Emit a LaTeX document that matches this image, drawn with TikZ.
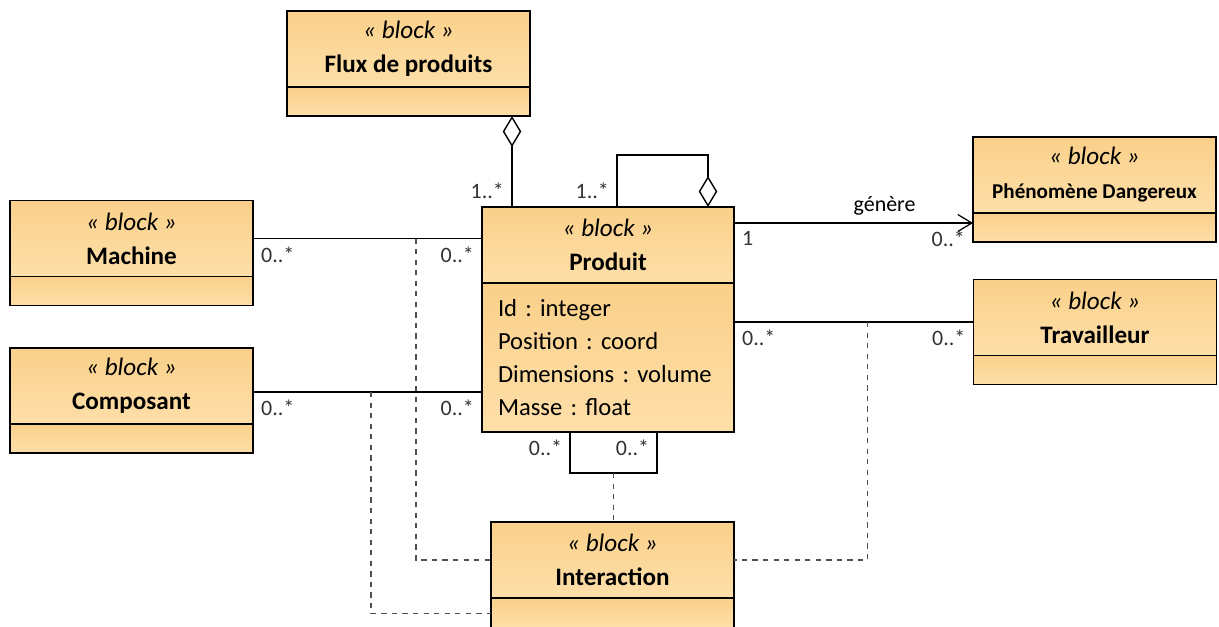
\documentclass[tikz,border=0pt]{standalone}
\usepackage{fontspec}
\setmainfont{Carlito}
\usetikzlibrary{positioning,calc,arrows.meta}
\frenchspacing

\definecolor{blocktop}{HTML}{FAD08A}
\definecolor{blockbot}{HTML}{FDDFA9}
\definecolor{multgray}{HTML}{333333}
\definecolor{dashgray}{HTML}{505050}

\tikzset{
  blockhead/.style={draw, line width=1.1pt, top color=blocktop, bottom color=blockbot,
    minimum width=4.86cm, minimum height=1.52cm, align=center, inner sep=0pt, outer sep=0pt,
    font=\fontsize{14.3}{19.3}\selectfont},
  blockcomp/.style={draw, line width=1.1pt, top color=blocktop, bottom color=blockbot,
    minimum width=4.86cm, minimum height=0.58cm, inner sep=0pt, outer sep=0pt},
  assoc/.style={line width=0.7pt},
  link/.style={dashed, dashgray, line width=0.7pt},
  mult/.style={font=\fontsize{12.5}{14}\selectfont, text=multgray, inner sep=0.15cm},
  aggreg/.style={{Diamond[open,length=0.62cm,width=0.37cm,line width=0.8pt]}-},
}

\begin{document}
\begin{tikzpicture}
  \useasboundingbox (0,0) rectangle (24.38,-12.52);

  % blocks
  \node[blockhead] (flux) at (8.17,-0.98) {\textit{« block »}\\\textbf{Flux de produits}};
  \node[blockcomp, below=0pt of flux] (flux-c) {};

  \node[blockhead, minimum width=5.04cm] (produit) at (12.16,-4.9) {\textit{« block »}\\\textbf{Produit}};
  \node[blockcomp, minimum width=5.04cm, minimum height=2.98cm, text width=4.4cm, align=left,
    font=\fontsize{14}{18.7}\selectfont, below=0pt of produit] (produit-c)
    {Id : integer\\Position : coord\\Dimensions : volume\\Masse : float};

  \node[blockhead] (machine) at (2.63,-4.77) {\textit{« block »}\\\textbf{Machine}};
  \node[blockcomp, below=0pt of machine] (machine-c) {};

  \node[blockhead] (composant) at (2.63,-7.72) {\textit{« block »}\\\textbf{Composant}};
  \node[blockcomp, below=0pt of composant] (composant-c) {};

  \node[blockhead] (phen) at (21.89,-3.5)
    {\textit{« block »}\\{\fontsize{12}{14}\selectfont\bfseries Phénomène Dangereux}};
  \node[blockcomp, below=0pt of phen] (phen-c) {};

  \node[blockhead] (trav) at (21.9,-6.35) {\textit{« block »}\\\textbf{Travailleur}};
  \node[blockcomp, below=0pt of trav] (trav-c) {};

  \node[blockhead] (inter) at (12.25,-11.2) {\textit{« block »}\\\textbf{Interaction}};
  \node[blockcomp, minimum height=0.62cm, below=0pt of inter] (inter-c) {};

  % ends
  \coordinate (genend) at ([yshift=0.09cm]phen-c.west);
  \coordinate (travend) at ([yshift=-0.09cm]trav.west);
  \coordinate (compend) at ([yshift=-0.12cm]composant.east);

  % aggregations
  \draw[assoc, aggreg] ([xshift=-0.36cm]flux-c.south east) -- ([xshift=-0.36cm]flux-c.south east |- produit.north)
    node[mult, pos=1, anchor=south east] {1..*};
  \draw[assoc, aggreg] ([xshift=2cm]produit.north) -- ++(0,1.04) -| ([xshift=0.18cm]produit.north)
    node[mult, pos=1, anchor=south east] {1..*};

  % associations
  \draw[assoc] (machine.east) -- (machine.east -| produit.west)
    coordinate[pos=0.712] (mj)
    node[mult, pos=0, anchor=north west] {0..*}
    node[mult, pos=1, anchor=north east] {0..*};
  \draw[assoc] (compend) -- (compend -| produit-c.west)
    coordinate[pos=0.515] (cj)
    node[mult, pos=0, anchor=north west] {0..*}
    node[mult, pos=1, anchor=north east] {0..*};
  \draw[assoc, -{Straight Barb[length=0.28cm,width=0.34cm]}] (produit.east |- genend) -- (genend)
    node[mult, pos=0.63, anchor=south, text=black] {génère}
    node[mult, pos=0, anchor=north west] {1}
    node[mult, pos=1, anchor=north east] {0..*};
  \draw[assoc] (produit-c.east |- travend) -- (travend)
    coordinate[pos=0.558] (tj)
    node[mult, pos=0, anchor=north west] {0..*}
    node[mult, pos=1, anchor=north east] {0..*};

  % self loop below
  \draw[assoc] ([xshift=-0.76cm]produit-c.south) |- coordinate[pos=0.75] (loop)
    ([xshift=0.98cm,yshift=-0.82cm]produit-c.south) -- ([xshift=0.98cm]produit-c.south);
  \node[mult, anchor=north east] at ([xshift=-0.76cm]produit-c.south) {0..*};
  \node[mult, anchor=north east] at ([xshift=0.98cm]produit-c.south) {0..*};

  % interaction links
  \draw[link] (loop) -- (loop |- inter.north);
  \draw[link] (mj) |- (inter.west);
  \draw[link] (cj) |- (inter-c.west);
  \draw[link] (tj) |- (inter.east);
\end{tikzpicture}
\end{document}
